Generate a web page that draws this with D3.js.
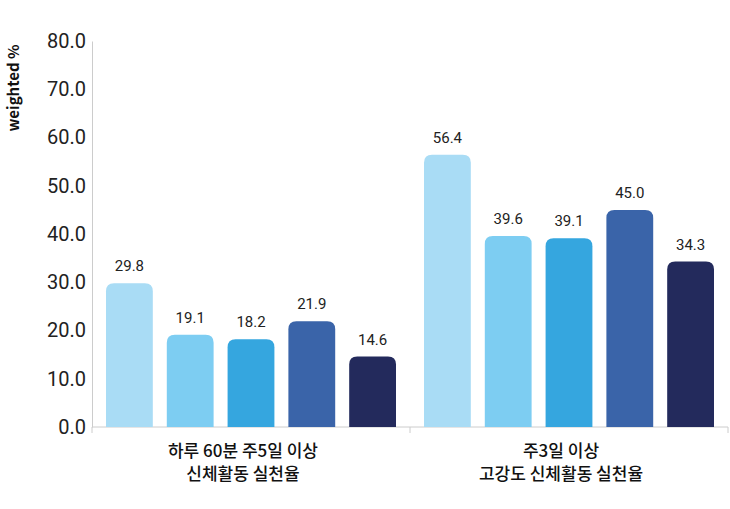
<!doctype html>
<html>
<head>
<style>
  body { margin: 0; background: #fff; }
  text { font-family: "Noto Sans CJK KR", "Noto Sans", sans-serif; }
</style>
</head>
<body>
<svg id="chart" width="730" height="509"></svg>
<script src="https://d3js.org/d3.v7.min.js"></script>
<script>
var groups = ['하루 60분 주5일 이상|신체활동 실천율', '주3일 이상|고강도 신체활동 실천율'];
var series = ['s1', 's2', 's3', 's4', 's5'];
var values = [
  [29.8, 19.1, 18.2, 21.9, 14.6],
  [56.4, 39.6, 39.1, 45.0, 34.3]
];
var colors = ['#a9dcf5', '#7dcdf2', '#35a6df', '#3a64a9', '#232a5c'];
var yTicks = [0, 10, 20, 30, 40, 50, 60, 70, 80];

var svg = d3.select('#chart');
var mLeft = 92, mRight = 728, mTop = 41, mBottom = 427;

var y = d3.scaleLinear().domain([0, 80]).range([mBottom, mTop]);
var x0 = d3.scaleBand().domain(d3.range(groups.length)).range([mLeft, mRight]);
var x1 = d3.scaleBand().domain(series).range([14, x0.bandwidth() - 14]).paddingInner(0.23);

// y axis
var ya = svg.append('g').attr('transform', 'translate(' + mLeft + ',0)')
  .call(d3.axisLeft(y).tickValues(yTicks).tickFormat(d3.format('.1f')).tickSize(0).tickPadding(6));
ya.select('.domain').attr('stroke', '#ccc');
ya.selectAll('text').style('font-size', '20px').attr('fill', '#222').style('font-family', 'Roboto, "Noto Sans", sans-serif');

svg.append('text').attr('transform', 'translate(19,88) rotate(-90)')
  .attr('text-anchor', 'middle').style('font-size', '15px').style('font-weight', 'bold').attr('fill', '#111')
  .text('weighted %');

// x axis
svg.append('line').attr('x1', mLeft).attr('x2', mRight).attr('y1', mBottom).attr('y2', mBottom).attr('stroke', '#ccc');
[0, 1, 2].forEach(function (i) {
  var xx = mLeft + i * x0.bandwidth();
  svg.append('line').attr('x1', xx).attr('x2', xx).attr('y1', mBottom).attr('y2', mBottom + 6).attr('stroke', '#ccc');
});

var r = 8;
values.forEach(function (vals, gi) {
  var g = svg.append('g').attr('transform', 'translate(' + x0(gi) + ',0)');
  vals.forEach(function (v, si) {
    var bx = x1(series[si]), bw = x1.bandwidth(), by = y(v);
    g.append('path').attr('fill', colors[si])
      .attr('d', 'M' + bx + ',' + mBottom + 'V' + (by + r) + 'Q' + bx + ',' + by + ' ' + (bx + r) + ',' + by +
        'H' + (bx + bw - r) + 'Q' + (bx + bw) + ',' + by + ' ' + (bx + bw) + ',' + (by + r) + 'V' + mBottom + 'Z');
    g.append('text').attr('x', bx + bw / 2).attr('y', by - 12).attr('text-anchor', 'middle')
      .style('font-size', '15px').attr('fill', '#222').style('font-family', 'Roboto, "Noto Sans", sans-serif')
      .text(v.toFixed(1));
  });
  groups[gi].split('|').forEach(function (line, li) {
    g.append('text').attr('x', x0.bandwidth() / 2 - 8).attr('y', 457 + li * 23).attr('text-anchor', 'middle')
      .style('font-size', '17px').style('font-weight', '500').attr('fill', '#111').text(line);
  });
});
</script>
</body>
</html>
